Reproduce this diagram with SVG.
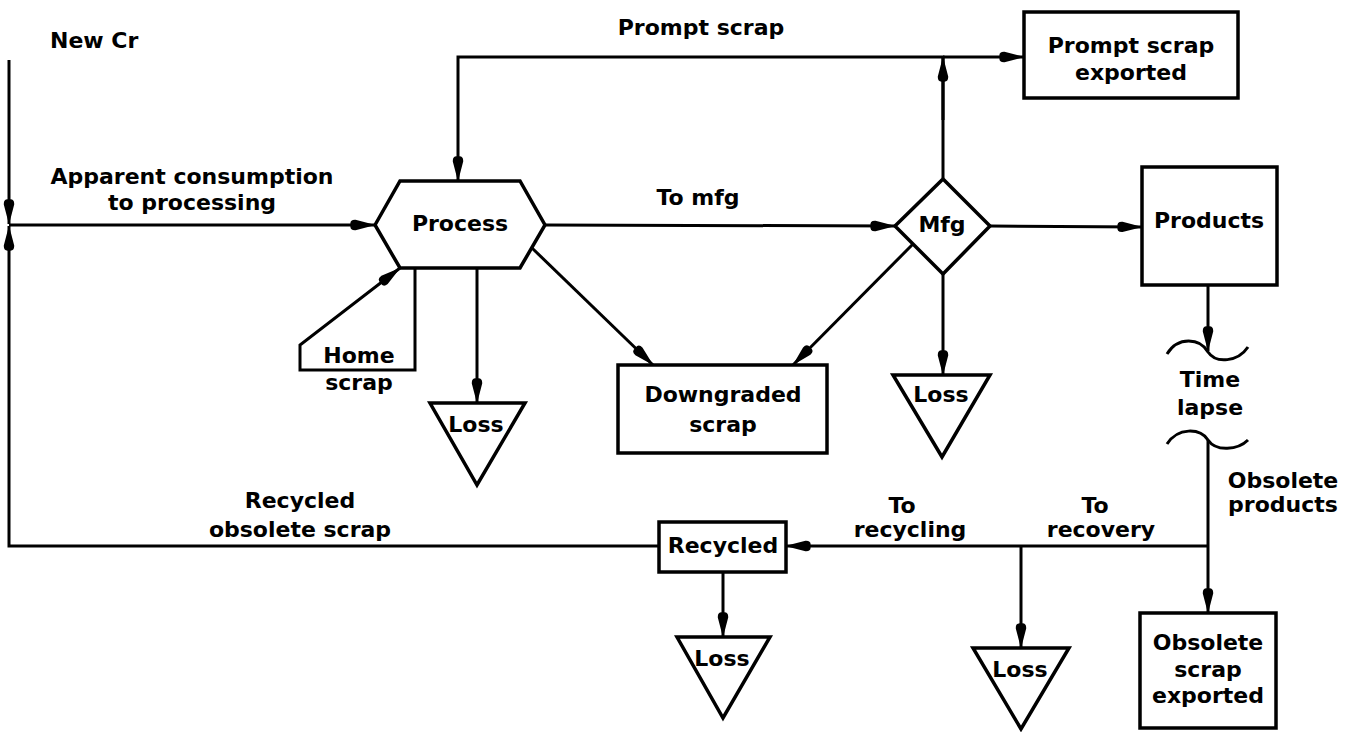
<svg xmlns="http://www.w3.org/2000/svg" width="1348" height="732" viewBox="0 0 1348 732">
  <style>
    text { font-family: "DejaVu Sans", "Liberation Sans", sans-serif; font-weight: bold; font-size: 22px; fill: #000; text-anchor: middle; }
    .lbl { text-anchor: start; }
    .shape { fill: #fff; stroke: #000; stroke-width: 3.5; stroke-linejoin: miter; }
    .line { fill: none; stroke: #000; stroke-width: 3; }
    .arrow { marker-end: url(#arr); }
  </style>
  <defs>
    <!-- long, narrow filled arrowhead with a rounded back -->
    <marker id="arr" viewBox="0 0 26 12" refX="25.5" refY="6" markerWidth="26" markerHeight="12" markerUnits="userSpaceOnUse" orient="auto">
      <path d="M1,6 Q0,0.5 6,0.8 L26,6 L6,11.2 Q0,11.5 1,6 Z" fill="#000"/>
    </marker>
  </defs>
  <rect width="1348" height="732" fill="#fff"/>

  <!-- flow connectors -->
  <g id="connectors">
    <!-- new supply and returned scrap meet at the left junction -->
    <line class="line arrow" x1="9" y1="60" x2="9" y2="224"/>
    <polyline class="line arrow" points="659,546 9,546 9,226"/>
    <line class="line arrow" x1="9" y1="225" x2="375" y2="225"/>
    <!-- prompt scrap loop -->
    <polyline class="line arrow" points="943,178 943,57 458,57 458,181"/>
    <line class="line arrow" x1="943" y1="57" x2="1024" y2="57"/>
    <line class="line arrow" x1="943" y1="120" x2="943" y2="57"/>
    <!-- home scrap loop -->
    <polyline class="line arrow" points="415,268 415,370 300,370 300,345 400,268"/>
    <!-- process outputs -->
    <line class="line arrow" x1="477" y1="268" x2="477" y2="403"/>
    <line class="line arrow" x1="532" y1="248" x2="653" y2="365"/>
    <line class="line arrow" x1="545" y1="225" x2="895" y2="226"/>
    <!-- manufacturing outputs -->
    <line class="line arrow" x1="913" y1="244" x2="793" y2="365"/>
    <line class="line arrow" x1="943" y1="274" x2="943" y2="375"/>
    <line class="line arrow" x1="990" y1="226" x2="1142" y2="227"/>
    <!-- products through time lapse -->
    <line class="line arrow" x1="1208" y1="285" x2="1208" y2="351"/>
    <path class="line" d="M1167,354 C1178,336 1200,338 1208,352 C1216,364 1238,362 1248,347"/>
    <path class="line" d="M1167,444 C1178,427 1200,428 1208,440 C1216,452 1238,450 1248,440"/>
    <line class="line arrow" x1="1208" y1="440" x2="1208" y2="613"/>
    <!-- obsolete scrap split -->
    <line class="line arrow" x1="1208" y1="546" x2="786" y2="546"/>
    <line class="line arrow" x1="1021" y1="546" x2="1021" y2="648"/>
    <line class="line arrow" x1="723" y1="572" x2="723" y2="637"/>
  </g>

  <!-- connector labels -->
  <g id="labels">
    <text class="lbl" x="50" y="48">New Cr</text>
    <text x="192" y="184">Apparent consumption</text>
    <text x="192" y="210">to processing</text>
    <text x="701" y="35">Prompt scrap</text>
    <text x="698" y="205">To mfg</text>
    <text x="359" y="363">Home</text>
    <text x="359" y="390">scrap</text>
    <text x="1283" y="488">Obsolete</text>
    <text x="1283" y="512">products</text>
    <text x="902" y="513">To</text>
    <text x="910" y="537">recycling</text>
    <text x="1095" y="513">To</text>
    <text x="1101" y="537">recovery</text>
    <text x="300" y="508">Recycled</text>
    <text x="300" y="537">obsolete scrap</text>
  </g>

  <g id="process">
    <polygon class="shape" points="375,225 400,181 520,181 545,225 520,268 400,268"/>
    <text x="460" y="231">Process</text>
  </g>

  <g id="mfg">
    <polygon class="shape" points="895,226 943,179 990,226 943,274"/>
    <text x="942" y="232">Mfg</text>
  </g>

  <g id="prompt-scrap-exported">
    <rect class="shape" x="1024" y="12" width="214" height="86"/>
    <text x="1131" y="53">Prompt scrap</text>
    <text x="1131" y="80">exported</text>
  </g>

  <g id="products">
    <rect class="shape" x="1142" y="167" width="135" height="118"/>
    <text x="1209" y="228">Products</text>
  </g>

  <g id="time-lapse">
    <text x="1210" y="387">Time</text>
    <text x="1210" y="415">lapse</text>
  </g>

  <g id="downgraded-scrap">
    <rect class="shape" x="618" y="365" width="209" height="88"/>
    <text x="723" y="402">Downgraded</text>
    <text x="723" y="432">scrap</text>
  </g>

  <g id="loss-process">
    <polygon class="shape" points="430,403 525,403 477,485"/>
    <text x="476" y="432">Loss</text>
  </g>

  <g id="loss-mfg">
    <polygon class="shape" points="893,375 990,375 942,457"/>
    <text x="941" y="402">Loss</text>
  </g>

  <g id="recycled">
    <rect class="shape" x="659" y="522" width="127" height="50"/>
    <text x="723" y="553">Recycled</text>
  </g>

  <g id="loss-recycled">
    <polygon class="shape" points="677,637 770,637 723,718"/>
    <text x="722" y="666">Loss</text>
  </g>

  <g id="loss-recovery">
    <polygon class="shape" points="973,648 1069,648 1021,729"/>
    <text x="1020" y="677">Loss</text>
  </g>

  <g id="obsolete-scrap-exported">
    <rect class="shape" x="1140" y="613" width="136" height="115"/>
    <text x="1208" y="650">Obsolete</text>
    <text x="1208" y="677">scrap</text>
    <text x="1208" y="703">exported</text>
  </g>
</svg>
